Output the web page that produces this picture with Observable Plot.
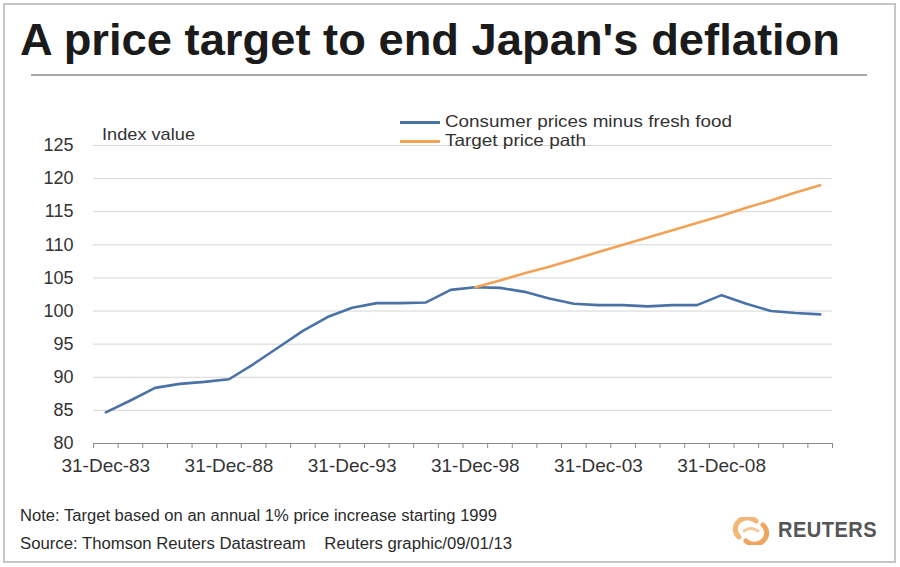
<!DOCTYPE html>
<html>
<head>
<meta charset="utf-8">
<script src="https://cdn.jsdelivr.net/npm/d3@7"></script>
<script src="https://cdn.jsdelivr.net/npm/@observablehq/plot@0.6"></script>
<style>
  html, body { margin: 0; padding: 0; background: #fff; }
  #page { position: relative; width: 900px; height: 567px; overflow: hidden; background: #fff;
          font-family: "Liberation Sans", Arial, sans-serif; color: #2a2a2a; }
  .t { position: absolute; white-space: nowrap; line-height: 1; transform-origin: 0 50%; }
  #frame { position: absolute; left: 3px; top: 3px; width: 889px; height: 556px; border: 2px solid #c6c6c6; }
  #rule { position: absolute; left: 31px; top: 74px; width: 836px; height: 2px; background: #a9a9a9; }
  .sw { position: absolute; height: 3px; width: 40px; }
  #plot { position: absolute; left: 0; top: 100px; }
</style>
</head>
<body>
<div id="page">
  <div id="frame"></div>
  <div class="t" id="title" style="left:20px; top:17px; font-size:45px; font-weight:bold; color:#1b1b1b;">A price target to end Japan's deflation</div>
  <div id="rule"></div>
  <div id="plot"></div>
  <div class="t" id="ylab" style="left:102px; top:126px; font-size:17px; color:#333;">Index value</div>
  <div class="sw" style="left:400px; top:121px; background:#4a72a6;"></div>
  <div class="t" id="leg1" style="left:445px; top:113px; font-size:16.5px; color:#333;">Consumer prices minus fresh food</div>
  <div class="sw" style="left:400px; top:140px; background:#f2a256;"></div>
  <div class="t" id="leg2" style="left:445px; top:132px; font-size:16.5px; color:#333;">Target price path</div>
  <div class="t" id="note" style="left:20px; top:508px; font-size:16px; color:#2a2a2a;">Note: Target based on an annual 1% price increase starting 1999</div>
  <div class="t" id="src" style="left:20px; top:536px; font-size:16px; color:#2a2a2a;">Source: Thomson Reuters Datastream&nbsp;&nbsp;&nbsp;&nbsp;Reuters graphic/09/01/13</div>
  <svg style="position:absolute; left:732px; top:517px;" width="38" height="28" viewBox="0 0 38 28">
    <path d="M7,20 A12,11 0 0 1 24,4" fill="none" stroke="#f3b676" stroke-width="5" stroke-linecap="round"/>
    <path d="M31,8 A12,11 0 0 1 14,24" fill="none" stroke="#f0a55e" stroke-width="5" stroke-linecap="round"/>
    <path d="M12,14 Q19,9 26,14" fill="none" stroke="#f6c99a" stroke-width="3" stroke-linecap="round"/>
  </svg>
  <div class="t" id="reuters" style="left:778px; top:519px; font-size:22px; font-weight:bold; color:#555; letter-spacing:0.5px;">REUTERS</div>
</div>
<script>
// ---- data ----
const years = [1983, 1984, 1985, 1986, 1987, 1988, 1989, 1990, 1991, 1992,
               1993, 1994, 1995, 1996, 1997, 1998, 1999, 2000, 2001, 2002,
               2003, 2004, 2005, 2006, 2007, 2008, 2009, 2010, 2011, 2012];
const cpiValues = [84.7, 86.5, 88.4, 89.0, 89.3, 89.7, 92.0, 94.5, 97.0, 99.1,
                   100.5, 101.2, 101.2, 101.3, 103.2, 103.6, 103.5, 102.9, 101.9, 101.1,
                   100.9, 100.9, 100.7, 100.9, 100.9, 102.4, 101.1, 100.0, 99.7, 99.5];
const targetYears = [1998, 1999, 2000, 2001, 2002, 2003, 2004, 2005, 2006, 2007,
                     2008, 2009, 2010, 2011, 2012];
const targetValues = [103.6, 104.6, 105.7, 106.7, 107.8, 108.9, 110.0, 111.1, 112.2, 113.3,
                      114.4, 115.6, 116.7, 117.9, 119.0];
const yTicks = [80, 85, 90, 95, 100, 105, 110, 115, 120, 125];
const xLabelYears = [1983, 1988, 1993, 1998, 2003, 2008];
const categoryEdges = [1982.5, 1983.5, 1984.5, 1985.5, 1986.5, 1987.5, 1988.5, 1989.5, 1990.5, 1991.5,
                       1992.5, 1993.5, 1994.5, 1995.5, 1996.5, 1997.5, 1998.5, 1999.5, 2000.5, 2001.5,
                       2002.5, 2003.5, 2004.5, 2005.5, 2006.5, 2007.5, 2008.5, 2009.5, 2010.5, 2011.5, 2012.5];

const cpi = years.map((year, i) => ({year, value: cpiValues[i]}));
const target = targetYears.map((year, i) => ({year, value: targetValues[i]}));

const chart = Plot.plot({
  width: 900,
  height: 390,
  marginLeft: 93,
  marginRight: 68,
  marginTop: 45,
  marginBottom: 47,
  x: {domain: [categoryEdges[0], categoryEdges[categoryEdges.length - 1]], label: null},
  y: {domain: [80, 125], label: null},
  style: {fontFamily: "'Liberation Sans', Arial, sans-serif", color: "#333", background: "transparent", overflow: "visible"},
  marks: [
    Plot.gridY(yTicks.filter(d => d > 80), {stroke: "#d6d6d6", strokeOpacity: 1, strokeWidth: 1}),
    Plot.axisY(yTicks, {tickSize: 0, tickPadding: 20, fontSize: 18, label: null, fill: "#333"}),
    Plot.ruleY([80], {stroke: "#8a8a8a", strokeWidth: 1}),
    Plot.axisX(categoryEdges, {tickSize: 5, tickFormat: () => "", stroke: "#8a8a8a", strokeOpacity: 1, label: null}),
    Plot.axisX(xLabelYears, {tickSize: 0, tickPadding: 15, fontSize: 19, fill: "#333", label: null,
      tickFormat: d => "31-Dec-" + String(d).slice(2)}),
    Plot.line(cpi, {x: "year", y: "value", stroke: "#4a72a6", strokeWidth: 2.6}),
    Plot.line(target, {x: "year", y: "value", stroke: "#f2a256", strokeWidth: 2.6})
  ]
});
document.getElementById("plot").appendChild(chart);

function fit(id, w) {
  const el = document.getElementById(id);
  el.style.transform = "none";
  const r = el.getBoundingClientRect().width;
  el.style.transform = "scaleX(" + (w / r) + ")";
}
function fitAll() {
  fit("title", 820);
  fit("ylab", 93);
  fit("leg1", 287);
  fit("leg2", 141);
  fit("note", 477);
  fit("src", 492);
  fit("reuters", 99);
}
fitAll();
if (document.fonts && document.fonts.ready) document.fonts.ready.then(fitAll);
</script>
</body>
</html>
